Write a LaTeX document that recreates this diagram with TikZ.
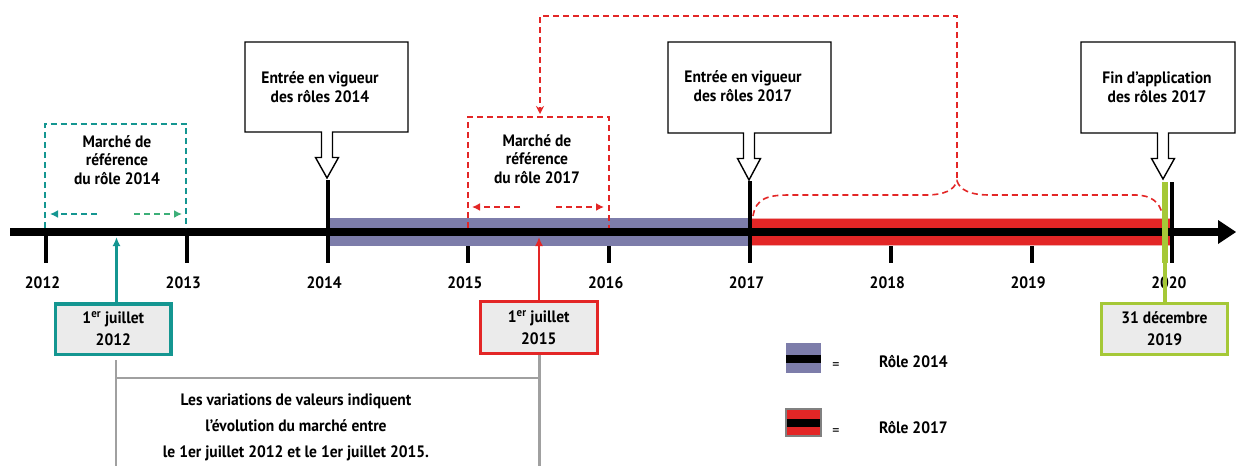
\documentclass[tikz,border=0pt]{standalone}
\usepackage{fontspec}
\setmainfont[FakeStretch=0.94]{PT Sans}
\usetikzlibrary{arrows.meta}
\definecolor{tealc}{RGB}{20,150,145}
\definecolor{greenc}{RGB}{60,175,120}
\definecolor{purp}{RGB}{125,125,170}
\definecolor{redc}{RGB}{227,38,38}
\definecolor{pinkc}{RGB}{240,170,170}
\definecolor{limec}{RGB}{165,200,55}
\definecolor{boxfill}{RGB}{235,235,235}
\definecolor{grayl}{RGB}{160,160,160}
\newcommand\calloutbox[6]{%
\filldraw[fill=white, draw=black, line width=1.4pt] (#1,#3) -- (#2,#3) -- (#2,#4) -- (#5+5.5,#4) -- (#5+5.5,#4+25.5) -- (#5+11.5,#4+25.5) -- (#5,#6) -- (#5-11.5,#4+25.5) -- (#5-5.5,#4+25.5) -- (#5-5.5,#4) -- (#1,#4) -- cycle;}
\begin{document}
\begin{tikzpicture}[x=1pt,y=-1pt,
  txt/.style={font=\bfseries\fontsize{16.5}{19.5}\selectfont, align=center, inner sep=0pt},
  tick/.style={line width=4pt},
  tealdash/.style={draw=tealc, line width=2pt, dash pattern=on 6pt off 4pt},
  greendash/.style={draw=greenc, line width=2pt, dash pattern=on 6pt off 4pt},
  reddash/.style={draw=redc, line width=1.6pt, dash pattern=on 6pt off 4pt},
  datebox/.style={txt, fill=boxfill, font=\bfseries\fontsize{16.5}{22}\selectfont},
  grayline/.style={draw=grayl, line width=2.5pt}]
\useasboundingbox (0,0) rectangle (1236,466);
\fill[white] (0,0) rectangle (1236,466);

% ticks and years (below the bands)
\foreach \yr [count=\i from 0] in {2012,...,2020}{
  \pgfmathsetmacro\xx{46+140.8*\i}
  \draw[tick] (\xx,232) -- (\xx,263);
  \node[txt, anchor=base] (y\yr) at (\xx-3.5,288.5) {\yr};
}

% bands
\fill[purp] (327.6,218) rectangle (750,245.5);
\filldraw[fill=redc, draw=pinkc, line width=0.6pt] (750,218) rectangle (1173,245.5);

% axis
\coordinate (axs) at (10,232);
\coordinate (axe) at (1220,232);
\draw[line width=8.5pt] (axs) -- (axe);
\fill (1218,220) -- (1236,232) -- (1218,244) -- cycle;

% tall ticks
\draw[tick] (327.6,180) -- (327.6,263);
\draw[tick] (750,181) -- (750,263);
\draw[tick] (1172.4,182) -- (1172.4,263);

% green bar
\draw[limec, line width=6pt] (1164.5,182) -- (1164.5,263);

% callouts
\calloutbox{245}{408}{42}{132}{327}{178}
\node[txt] (e14) at (320,87) {Entrée en vigueur\\des rôles 2014};
\calloutbox{668}{831}{42}{133}{749}{180}
\node[txt] (e17) at (743,86) {Entrée en vigueur\\des rôles 2017};
\calloutbox{1081}{1235}{42}{133}{1163}{179}
\node[txt] (fin) at (1157,87) {Fin d'application\\des rôles 2017};

% teal reference box
\draw[tealdash] (45,228) -- (45,123.5) -- (186,123.5) -- (186,228);
\node[txt, font=\bfseries\fontsize{16.5}{18.5}\selectfont] (m14) at (117,160) {Marché de\\référence\\du rôle 2014};
\draw[tealdash, -{Latex[length=8pt,width=8pt]}] (97,214) -- (50,214);
\draw[greendash, -{Latex[length=8pt,width=8pt]}] (134,214) -- (182,214);

% red reference box
\draw[reddash] (468,228) -- (468,117) -- (609,117) -- (609,228);
\node[txt, font=\bfseries\fontsize{16.5}{18.5}\selectfont] (m17) at (537,159) {Marché de\\référence\\du rôle 2017};
\draw[reddash, -{Latex[length=8pt,width=8pt]}] (520,207) -- (472,207);
\draw[reddash, -{Latex[length=8pt,width=8pt]}] (556,207) -- (604,207);

% red connector and brace
\coordinate (btip) at (957,181);
\draw[reddash, -{Stealth[length=8pt,width=8pt]}] (957,178) -- (957,16) -- (540,16) -- (540,114);
\draw[reddash] (753,216) .. controls (756,198) and (768,195) .. (790,195) -- (925,195) .. controls (945,195) and (954,190) .. (btip) .. controls (960,190) and (970,195) .. (990,195) -- (1135,195) .. controls (1152,195) and (1160,203) .. (1162,214);

% date boxes
\node[datebox, draw=tealc, line width=3.5pt, minimum width=115.5pt, minimum height=50.5pt] (d12) at (113.3,329) {1\textsuperscript{er} juillet\\2012};
\node[datebox, draw=redc, line width=3pt, minimum width=116.5pt, minimum height=52pt] (d15) at (538.75,327.5) {1\textsuperscript{er} juillet\\2015};
\node[datebox, draw=limec, line width=3pt, minimum width=126pt, minimum height=51pt] (d19) at (1164.5,329) {31 décembre\\2019};

\coordinate (t12) at (116.5,237);
\coordinate (t15) at (539,237);
\draw[tealc, line width=2.5pt, -{Latex[length=9pt,width=8pt]}] (d12.north -| t12) -- (t12);
\draw[redc, line width=2.5pt, -{Latex[length=9pt,width=8pt]}] (d15.north -| t15) -- (t15);
\draw[limec, line width=4pt] (1165,263) -- (d19.north -| 1165,0);

% gray bracket
\coordinate (g1) at (116,360);
\coordinate (g2) at (539.5,355);
\draw[grayline] (g1) -- (116,466);
\draw[grayline] (g2) -- (539.5,466);
\draw[grayline] (116,378) -- (539.5,378);
\node[txt, font=\bfseries\fontsize{16.5}{26}\selectfont] (var) at (296,427) {Les variations de valeurs indiquent\\l'évolution du marché entre\\le 1er juillet 2012 et le 1er juillet 2015.};

% legend
\fill[purp] (786,343) rectangle (821,373);
\fill (786,355) rectangle (821,362.7);
\fill[redc] (786,409) rectangle (821,436);
\fill (786,419.3) rectangle (821,426.7);
\draw[gray, line width=1.2pt] (786,409) rectangle (821,436);
\node[inner sep=0pt, font=\fontsize{15}{15}\selectfont] (eq1) at (836,366) {=};
\node[inner sep=0pt, font=\fontsize{15}{15}\selectfont] (eq2) at (836,432) {=};
\node[txt, anchor=base west] (l14) at (879,367) {Rôle 2014};
\node[txt, anchor=base west] (l17) at (879,433) {Rôle 2017};
\end{tikzpicture}
\end{document}
